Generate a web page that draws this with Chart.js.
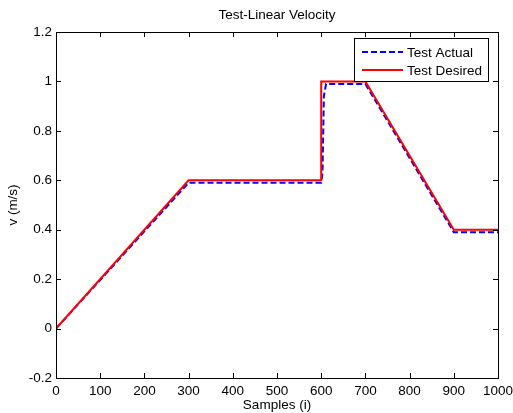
<!DOCTYPE html>
<html>
<head>
<meta charset="utf-8">
<script src="https://cdn.jsdelivr.net/npm/chart.js@4.4.0/dist/chart.umd.min.js"></script>
<style>
  html, body { margin: 0; padding: 0; background: #fff; }
  #wrap { width: 513px; height: 413px; }
</style>
</head>
<body>
<div id="wrap"><canvas id="chart" width="513" height="413"></canvas></div>
<script>
// samples (i) and velocity (m/s)
const sampleActual = [0, 300, 600, 603, 606, 611, 700, 900, 1000];
const velActual = [0, 0.59, 0.59, 0.63, 0.94, 0.99, 0.99, 0.39, 0.39];
const sampleDesired = [0, 300, 600, 600, 700, 900, 1000];
const velDesired = [0, 0.6, 0.6, 1.0, 1.0, 0.4, 0.4];

const xTicks = [0, 100, 200, 300, 400, 500, 600, 700, 800, 900, 1000];
const yTicks = [-0.2, 0, 0.2, 0.4, 0.6, 0.8, 1, 1.2];

const FONT = "'Liberation Sans', Arial, Helvetica, sans-serif";

const toPoints = (xs, ys) => xs.map((x, i) => ({ x: x, y: ys[i] }));

// matlab style box with inward ticks on all sides
const boxPlugin = {
  id: "matlabBox",
  afterDatasetsDraw(chart) {
    const { ctx, chartArea: a, scales } = chart;
    const len = 5;
    ctx.save();
    ctx.strokeStyle = "#000";
    ctx.lineWidth = 1;
    ctx.beginPath();
    xTicks.forEach((v) => {
      const px = Math.round(scales.x.getPixelForValue(v)) + 0.5;
      ctx.moveTo(px, a.bottom);
      ctx.lineTo(px, a.bottom - len);
      ctx.moveTo(px, a.top);
      ctx.lineTo(px, a.top + len);
    });
    yTicks.forEach((v) => {
      const py = Math.round(scales.y.getPixelForValue(v)) + 0.5;
      ctx.moveTo(a.left, py);
      ctx.lineTo(a.left + len, py);
      ctx.moveTo(a.right, py);
      ctx.lineTo(a.right - len, py);
    });
    ctx.stroke();
    ctx.strokeRect(Math.round(a.left) + 0.5, Math.round(a.top) + 0.5,
      Math.round(a.right - a.left), Math.round(a.bottom - a.top));
    ctx.restore();
  },
  afterDraw(chart) {
    // legend box in the top right corner
    const { ctx, chartArea: a } = chart;
    const w = 134, h = 43;
    const bx = Math.round(a.right) - 10 - w, by = Math.round(a.top) + 6;
    ctx.save();
    ctx.fillStyle = "#fff";
    ctx.fillRect(bx, by, w, h);
    ctx.strokeStyle = "#000";
    ctx.lineWidth = 1;
    ctx.strokeRect(bx + 0.5, by + 0.5, w, h);
    ctx.font = "13.5px " + FONT;
    ctx.textBaseline = "middle";
    ctx.fillStyle = "#000";
    chart.data.datasets.forEach((ds, i) => {
      const ry = by + 14 + i * 18;
      ctx.beginPath();
      ctx.strokeStyle = ds.borderColor;
      ctx.lineWidth = ds.borderWidth;
      ctx.setLineDash(ds.borderDash || []);
      ctx.moveTo(bx + 8, ry);
      ctx.lineTo(bx + 49, ry);
      ctx.stroke();
      ctx.setLineDash([]);
      ctx.fillText(ds.label, bx + 53, ry + 1);
    });
    ctx.restore();
  },
};

new Chart(document.getElementById("chart"), {
  type: "line",
  data: {
    datasets: [
      {
        label: "Test Actual",
        data: toPoints(sampleActual, velActual),
        borderColor: "#0000ff",
        borderWidth: 2,
        borderDash: [6, 3],
        pointRadius: 0,
        tension: 0,
        order: 1,
      },
      {
        label: "Test Desired",
        data: toPoints(sampleDesired, velDesired),
        borderColor: "#ff0000",
        borderWidth: 2,
        pointRadius: 0,
        tension: 0,
        order: 0,
      },
    ],
  },
  options: {
    responsive: false,
    animation: false,
    layout: { padding: { left: 0, right: 15, top: 0, bottom: 0 } },
    plugins: {
      legend: { display: false },
      tooltip: { enabled: false },
      title: {
        display: true,
        text: "Test-Linear Velocity",
        fullSize: false,
        color: "#000",
        font: { family: FONT, size: 13.5, weight: "normal" },
        padding: { top: 7, bottom: 8.8 },
      },
    },
    scales: {
      x: {
        type: "linear",
        min: 0,
        max: 1000,
        afterBuildTicks: (s) => { s.ticks = xTicks.map((v) => ({ value: v })); },
        afterFit: (s) => { s.height = 35; s.paddingRight = 0; s.paddingLeft = 0; },
        grid: { display: false, drawTicks: false },
        border: { display: false },
        ticks: {
          color: "#000",
          padding: 5,
          maxRotation: 0,
          autoSkip: false,
          font: { family: FONT, size: 13.5 },
          callback: (v) => String(v),
        },
        title: {
          display: true,
          text: "Samples (i)",
          color: "#000",
          font: { family: FONT, size: 13.5 },
          padding: { top: 0, bottom: 0 },
        },
      },
      y: {
        min: -0.2,
        max: 1.2,
        afterBuildTicks: (s) => { s.ticks = yTicks.map((v) => ({ value: v })); },
        afterFit: (s) => { s.width = 56; s.paddingTop = 0; s.paddingBottom = 0; },
        grid: { display: false, drawTicks: false },
        border: { display: false },
        ticks: {
          color: "#000",
          padding: 4,
          autoSkip: false,
          font: { family: FONT, size: 13.5 },
          callback: (v) => String(Math.round(v * 10) / 10),
        },
        title: {
          display: true,
          text: "v (m/s)",
          color: "#000",
          font: { family: FONT, size: 13.5 },
          padding: { top: 5, bottom: 0 },
        },
      },
    },
  },
  plugins: [boxPlugin],
});
</script>
</body>
</html>
